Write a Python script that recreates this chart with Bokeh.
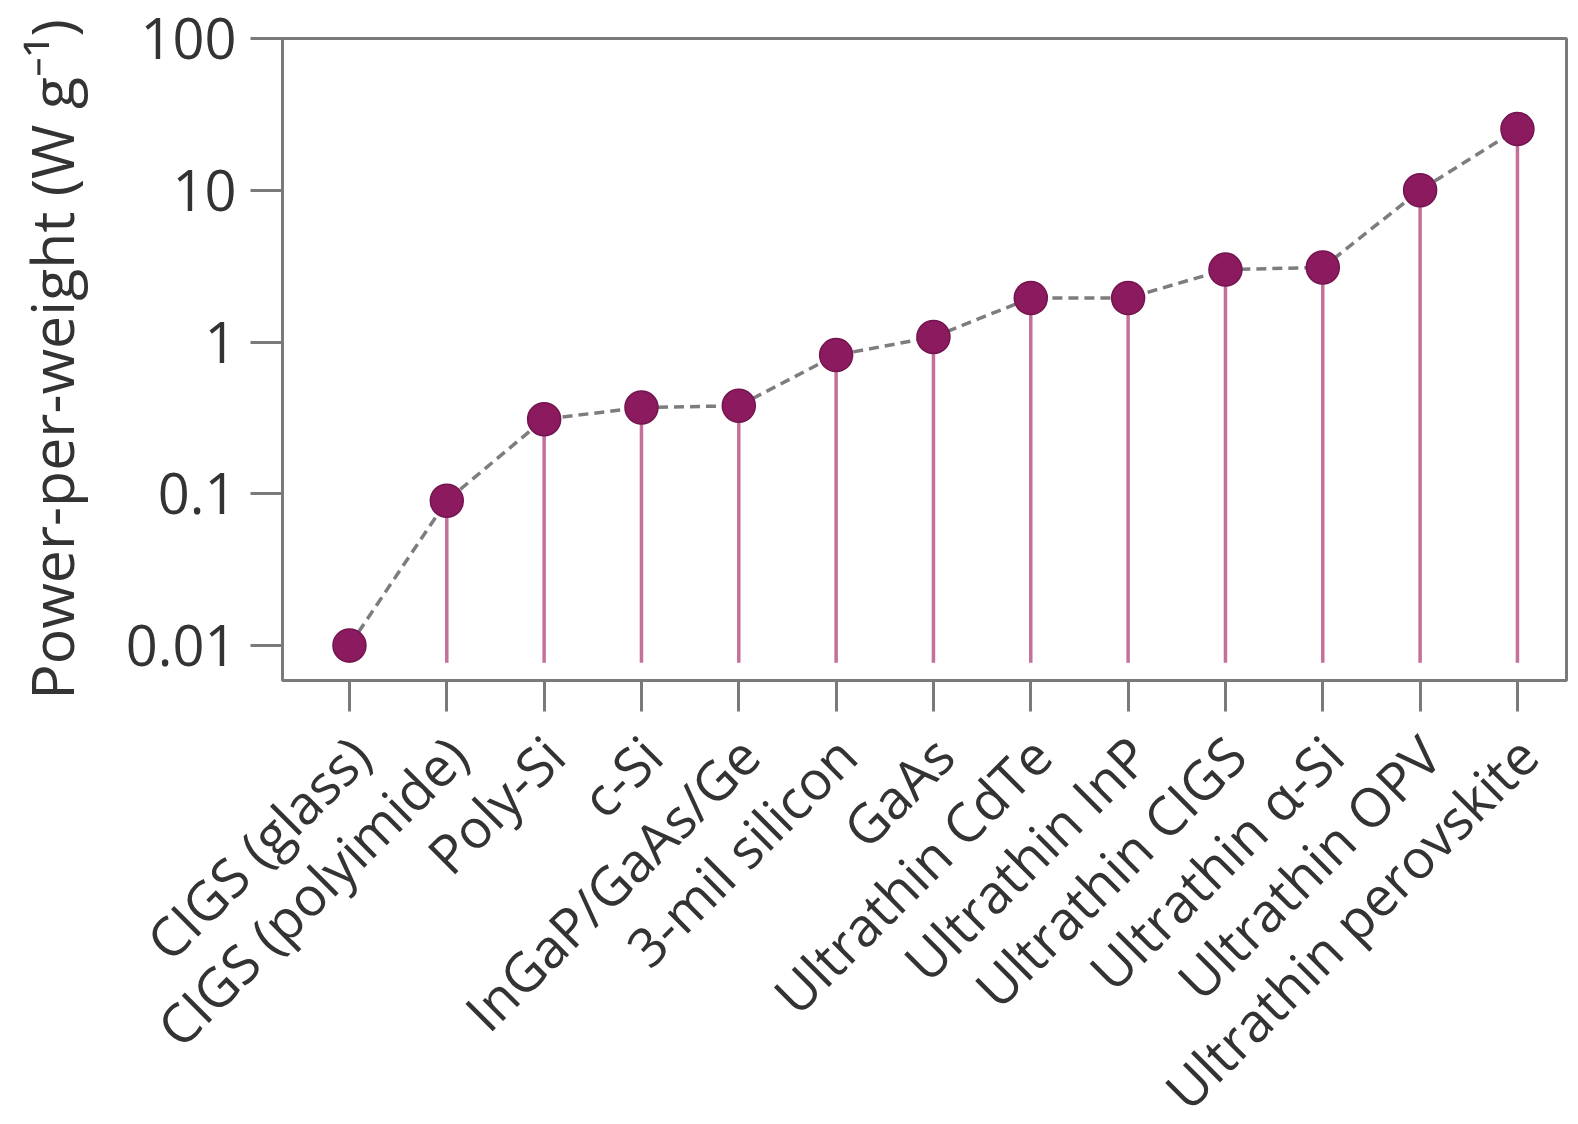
import math
from bokeh.plotting import figure
from bokeh.models import FixedTicker, Range1d, ColumnDataSource
from bokeh.core.properties import value
from bokeh.embed import file_html
from bokeh.resources import INLINE

# ---- data ----
categories = [
    "CIGS (glass)", "CIGS (polyimide)", "Poly-Si", "c-Si", "InGaP/GaAs/Ge",
    "3-mil silicon", "GaAs", "Ultrathin CdTe", "Ultrathin InP", "Ultrathin CIGS",
    "Ultrathin \u03b1-Si", "Ultrathin OPV", "Ultrathin perovskite",
]
power_per_weight = [0.01, 0.09, 0.31, 0.37, 0.38, 0.82, 1.08, 1.95, 1.95, 3.0, 3.1, 10.0, 25.3]
y_ticks = [0.01, 0.1, 1, 10, 100]
y_tick_labels = ["0.01", "0.1", "1", "10", "100"]

STEM_BASE = 0.0077
FONT = "Open Sans"
TEXT_COLOR = "#333333"
FRAME_COLOR = "#7a7a7a"
W = 1576
TOP_H = 712
BOTTOM_H = 412
BORDER_L = 282
BORDER_R = 10
X_START, X_END = -0.688, 12.504
LABEL_DROP_PX = 33   # label anchor distance below the top of the label strip

x = list(range(len(categories)))

# ---------------- main plot ----------------
p = figure(
    width=W, height=TOP_H,
    y_axis_type="log",
    x_range=Range1d(X_START, X_END),
    y_range=Range1d(0.00588, 100),
    output_backend="svg", toolbar_location=None,
    min_border_left=BORDER_L, min_border_right=BORDER_R, min_border_top=38, min_border_bottom=32,
)
p.background_fill_color = "white"
p.border_fill_color = "white"
p.grid.visible = False
p.outline_line_color = FRAME_COLOR
p.outline_line_width = 3

# stems
p.segment(x0=x, y0=[STEM_BASE] * len(x), x1=x, y1=power_per_weight,
          line_color="#c4709a", line_width=3.5)
# dashed connector
p.line(x, power_per_weight, line_color="#7d7d7d", line_width=3.5, line_dash="10 6")
# points
p.scatter(x, power_per_weight, size=33, fill_color="#8c1a5e",
          line_color="#741450", line_width=1.5)

for ax in (p.xaxis[0], p.yaxis[0]):
    ax.axis_line_color = FRAME_COLOR
    ax.axis_line_width = 3
    ax.major_tick_line_color = FRAME_COLOR
    ax.major_tick_line_width = 3
    ax.major_tick_in = 0
    ax.minor_tick_line_color = None
    ax.major_label_text_font = FONT
    ax.major_label_text_color = TEXT_COLOR

p.xaxis.ticker = FixedTicker(ticks=x)
p.xaxis.major_tick_out = 31
p.xaxis.major_label_standoff = 0
p.xaxis.major_label_text_font_size = "0px"
p.xaxis.major_label_overrides = {i: "" for i in x}

p.yaxis.ticker = FixedTicker(ticks=y_ticks)
p.yaxis.major_tick_out = 32
p.yaxis.major_label_overrides = {t: s for t, s in zip(y_ticks, y_tick_labels)}
p.yaxis.major_label_text_font_size = "56px"
p.yaxis.major_label_standoff = 14
p.yaxis.axis_label = "Power-per-weight (W g\u207b\u00b9)"
p.yaxis.axis_label_text_font = FONT
p.yaxis.axis_label_text_font_style = "normal"
p.yaxis.axis_label_text_font_size = "59px"
p.yaxis.axis_label_text_color = TEXT_COLOR
p.yaxis.axis_label_standoff = 32

# ---------------- category label strip (same x mapping, full-width frame) ----------------
px_per_unit = (W - BORDER_L - BORDER_R) / (X_END - X_START)
q = figure(
    width=W, height=BOTTOM_H,
    x_range=Range1d(X_START - BORDER_L / px_per_unit, X_END + BORDER_R / px_per_unit),
    y_range=Range1d(-BOTTOM_H, 0),
    x_axis_location=None, y_axis_location=None,
    output_backend="svg", toolbar_location=None,
    min_border_left=0, min_border_right=0, min_border_top=0, min_border_bottom=0,
)
q.grid.visible = False
q.outline_line_color = None
q.background_fill_color = "white"
q.border_fill_color = "white"

lab_src = ColumnDataSource(dict(x=x, y=[-LABEL_DROP_PX] * len(x), text=categories))
q.text(x="x", y="y", text="text", source=lab_src, x_offset=10,
       angle=math.pi / 4, text_align="right", text_baseline="middle",
       text_font=value(FONT), text_font_size="54px", text_color=TEXT_COLOR)

open("out.html", "w").write(file_html([p, q], INLINE))
